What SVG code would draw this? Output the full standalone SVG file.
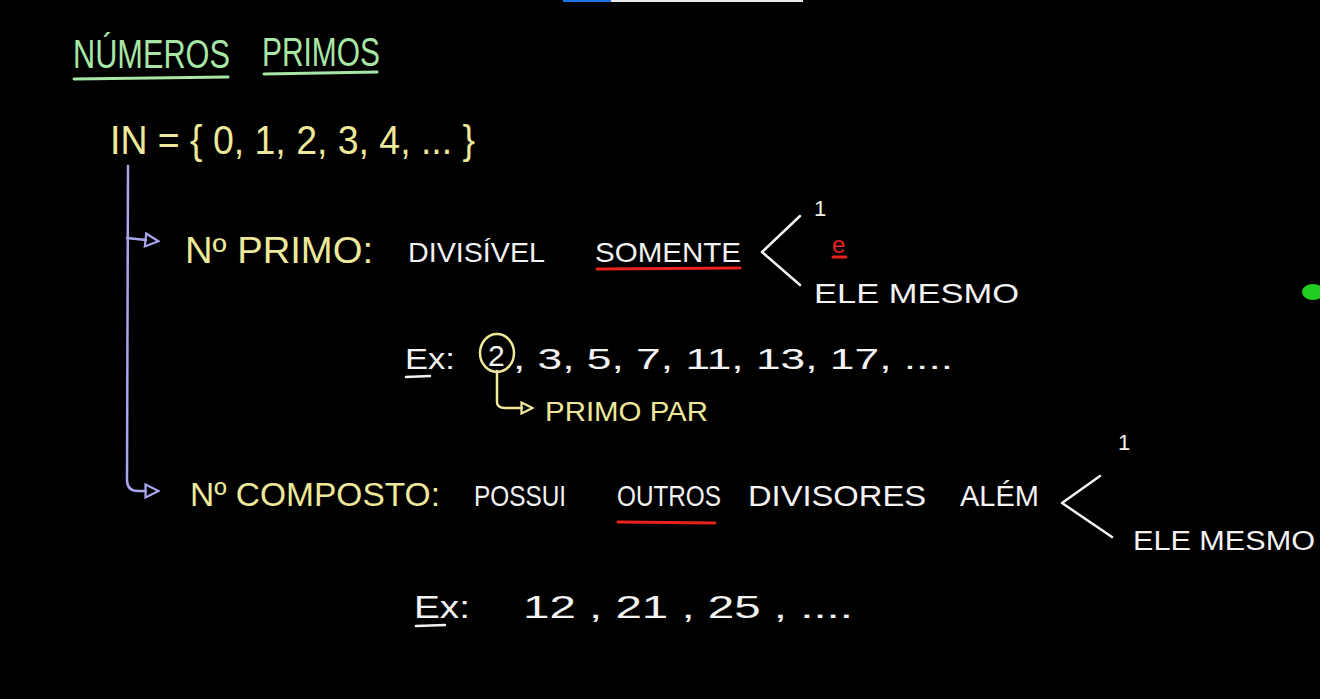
<svg xmlns="http://www.w3.org/2000/svg" width="1320" height="699" viewBox="0 0 1320 699">
<defs>
<style>
text{font-family:"Liberation Sans","DejaVu Sans",sans-serif;font-weight:normal}
.g{fill:#a8e6a6}.y{fill:#eee89a}.w{fill:#f2f2f2}.r{fill:#e8231c}
.ln{fill:none;stroke-linecap:round;stroke-linejoin:round}
.pl{stroke:#a9a6ee;stroke-width:2.5}
.wl{stroke:#f2f2f2;stroke-width:2.5}
.yl{stroke:#eee89a;stroke-width:2.5}
.rl{stroke:#e8231c;stroke-width:3}
.gl{stroke:#a8e6a6;stroke-width:3}
</style>
<marker id="tri" viewBox="0 0 16 16" refX="2" refY="8" markerWidth="16" markerHeight="16" markerUnits="userSpaceOnUse" orient="auto">
<path d="M1.5,1.5 L14.5,8 L1.5,14.5 Z" fill="none" stroke="#a9a6ee" stroke-width="2.2"/>
</marker>
<marker id="triy" viewBox="0 0 14 14" refX="2" refY="7" markerWidth="14" markerHeight="14" markerUnits="userSpaceOnUse" orient="auto">
<path d="M1.5,1.5 L12.5,7 L1.5,12.5 Z" fill="none" stroke="#eee89a" stroke-width="2.2"/>
</marker>
</defs>
<rect width="1320" height="699" fill="#000"/>
<rect x="563" y="0" width="48" height="2" fill="#1a73e8"/>
<rect x="611" y="0" width="192" height="2" fill="#e8e8e8"/>

<g id="title">
<text class="g" x="73" y="68" font-size="40" textLength="157" lengthAdjust="spacingAndGlyphs">NÚMEROS</text>
<text class="g" x="262" y="66" font-size="40" textLength="118" lengthAdjust="spacingAndGlyphs">PRIMOS</text>
<path class="ln gl" d="M74,79 L228,77"/>
<path class="ln gl" d="M264,74 L377,72"/>
</g>

<g id="naturais">
<text class="y" x="110" y="154" font-size="40" textLength="365" lengthAdjust="spacingAndGlyphs">IN = { 0, 1, 2, 3, 4, ... }</text>
</g>

<g id="connectors">
<path class="ln pl" d="M128,166 L127,480 Q127,491 138,491 L146,491" marker-end="url(#tri)"/>
<path class="ln pl" d="M127,238 L146,240" marker-end="url(#tri)"/>
<path class="ln yl" d="M497,371 L497,402 Q497,408 505,408 L522,408" marker-end="url(#triy)"/>
<path class="ln wl" d="M800,216 L762,252 L800,285"/>
<path class="ln wl" d="M1100,476 L1062,503 L1112,537"/>
</g>

<g id="primo">
<text class="y" x="185" y="263" font-size="36" textLength="188" lengthAdjust="spacingAndGlyphs">Nº PRIMO:</text>
<text class="w" x="408" y="262" font-size="28" textLength="137" lengthAdjust="spacingAndGlyphs">DIVISÍVEL</text>
<text class="w" x="595" y="262" font-size="28" textLength="146" lengthAdjust="spacingAndGlyphs">SOMENTE</text>
<path class="ln rl" d="M597,269 L740,268"/>
</g>

<g id="primo-divisores">
<text class="w" x="814" y="216" font-size="22">1</text>
<text class="r" x="832" y="253" font-size="24">e</text>
<path class="ln rl" d="M833,257 L846,257" stroke-width="2"/>
<text class="w" x="814" y="303" font-size="28" textLength="205" lengthAdjust="spacingAndGlyphs">ELE MESMO</text>
</g>

<g id="ex-primo">
<text class="w" x="405" y="369" font-size="30" textLength="50" lengthAdjust="spacingAndGlyphs">Ex:</text>
<path class="ln wl" d="M406,377 L430,376" stroke-width="2"/>
<ellipse cx="497" cy="353" rx="17" ry="19" fill="none" stroke="#eee89a" stroke-width="2.5"/>
<text class="w" x="488" y="366" font-size="30">2</text>
<text class="w" x="513" y="369" font-size="30" textLength="440" lengthAdjust="spacingAndGlyphs">,  3,  5,  7,  11,  13,  17, ....</text>
</g>

<g id="primo-par">
<text class="y" x="545" y="421" font-size="28" textLength="163" lengthAdjust="spacingAndGlyphs">PRIMO PAR</text>
</g>

<g id="composto">
<text class="y" x="190" y="506" font-size="34" textLength="250" lengthAdjust="spacingAndGlyphs">Nº COMPOSTO:</text>
<text class="w" x="474" y="506" font-size="30" textLength="92" lengthAdjust="spacingAndGlyphs">POSSUI</text>
<text class="w" x="617" y="506" font-size="30" textLength="104" lengthAdjust="spacingAndGlyphs">OUTROS</text>
<path class="ln rl" d="M618,522 L715,523"/>
<text class="w" x="748" y="506" font-size="30" textLength="178" lengthAdjust="spacingAndGlyphs">DIVISORES</text>
<text class="w" x="960" y="506" font-size="30" textLength="79" lengthAdjust="spacingAndGlyphs">ALÉM</text>
</g>

<g id="composto-divisores">
<text class="w" x="1118" y="450" font-size="22">1</text>
<text class="w" x="1133" y="550" font-size="27" textLength="182" lengthAdjust="spacingAndGlyphs">ELE MESMO</text>
</g>

<g id="ex-composto">
<text class="w" x="414" y="618" font-size="32" textLength="56" lengthAdjust="spacingAndGlyphs">Ex:</text>
<path class="ln wl" d="M416,626 L445,625" stroke-width="2"/>
<text class="w" x="523" y="618" font-size="32" textLength="330" lengthAdjust="spacingAndGlyphs">12 ,  21 ,  25 , ....</text>
</g>

<ellipse cx="1313" cy="292" rx="11" ry="8" fill="#22cc22"/>
</svg>
